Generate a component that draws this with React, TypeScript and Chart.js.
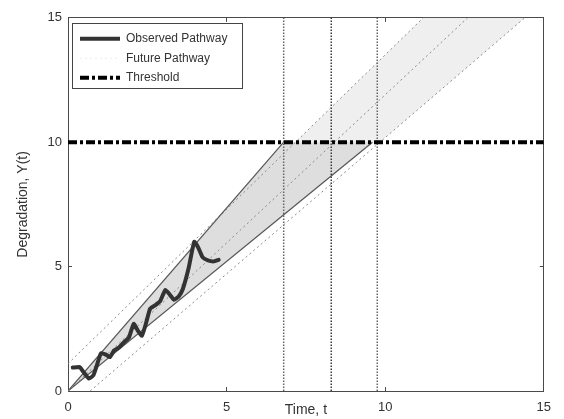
import React, { useEffect, useRef } from 'react';
import { Chart, registerables } from 'chart.js';

Chart.register(...registerables);

// ---- data ----
const observedTime = [0.15, 0.37, 0.49, 0.66, 0.8, 0.91, 1.04, 1.2, 1.32, 1.45, 1.61, 1.76, 1.92, 2.07, 2.21, 2.33, 2.45, 2.59, 2.74, 2.9, 3.07, 3.21, 3.34, 3.49, 3.62, 3.8, 3.98, 4.1, 4.24, 4.41, 4.6, 4.75];
const observedDeg = [0.94, 0.96, 0.76, 0.5, 0.63, 1.03, 1.52, 1.46, 1.36, 1.62, 1.75, 1.95, 2.15, 2.7, 2.41, 2.22, 2.68, 3.31, 3.44, 3.6, 4.06, 3.87, 3.67, 3.8, 4.1, 4.92, 6.0, 5.78, 5.38, 5.25, 5.21, 5.27];

const thresholdTime = [0, 15];
const thresholdValue = [10, 10];

const meanPathTime = [0, 12.6];
const meanPathDeg = [0, 15];
const upperDottedTime = [0, 11.2];
const upperDottedDeg = [1.1, 15];
const lowerDottedTime = [0.7, 14.4];
const lowerDottedDeg = [0, 15];

const upperSolidTime = [0, 6.8];
const upperSolidDeg = [0, 10];
const lowerSolidTime = [0, 9.6];
const lowerSolidDeg = [0, 10];

const crossingTimes = [6.8, 8.3, 9.75];
const crossingSpan = [0, 15];

const innerConeTime = [0, 6.8, 9.6, 0];
const innerConeDeg = [0, 10, 10, 0];
const outerBandTime = [7.17, 11.2, 14.4, 9.83, 7.17];
const outerBandDeg = [10, 15, 15, 10, 10];

const xTickStep = 5;
const yTickStep = 5;
const axisMin = 0;
const axisMax = 15;

const legendLabels = ['Observed Pathway', 'Future Pathway', 'Threshold'];

const pts = (xs: number[], ys: number[]) => xs.map((x, i) => ({ x, y: ys[i] }));

const FONT = 'Liberation Sans, Arial, Helvetica, sans-serif';
const AXIS_COLOR = '#4a4a4a';

const legendPlacement = {
  id: 'legendPlacement',
  afterLayout(chart: any) {
    const l = chart.legend;
    if (l) {
      l.left = chart.chartArea.left + 4.5;
      l.top = chart.chartArea.top + 7.5;
    }
  },
  afterDraw(chart: any) {
    const ctx = chart.ctx;
    const { left, top } = chart.chartArea;
    ctx.save();
    ctx.strokeStyle = '#444';
    ctx.lineWidth = 1;
    ctx.setLineDash([]);
    ctx.strokeRect(Math.round(left + 4) + 0.5, Math.round(top + 5) + 0.5, 170, 65);
    ctx.restore();
  },
};

export default function App() {
  const ref = useRef<HTMLCanvasElement | null>(null);

  useEffect(() => {
    if (!ref.current) return;
    const lineBase = { showLine: true, pointRadius: 0, pointHoverRadius: 0, fill: false };

    const datasets: any[] = [
      {
        ...lineBase,
        label: 'Observed Pathway',
        data: pts(observedTime, observedDeg),
        borderColor: '#333333',
        borderWidth: 4,
        borderJoinStyle: 'round',
        borderCapStyle: 'round',
        tension: 0.15,
      },
      {
        ...lineBase,
        label: 'Future Pathway',
        data: pts(meanPathTime, meanPathDeg),
        borderColor: '#8a8a8a',
        borderWidth: 1,
        borderDash: [2, 3],
      },
      {
        ...lineBase,
        label: 'Threshold',
        data: pts(thresholdTime, thresholdValue),
        borderColor: '#000000',
        borderWidth: 4,
        borderDash: [9, 3, 3, 3],
      },
      {
        ...lineBase,
        label: 'upper bound',
        data: pts(upperSolidTime, upperSolidDeg),
        borderColor: '#555555',
        borderWidth: 1.2,
      },
      {
        ...lineBase,
        label: 'lower bound',
        data: pts(lowerSolidTime, lowerSolidDeg),
        borderColor: '#555555',
        borderWidth: 1.2,
      },
      {
        ...lineBase,
        label: 'upper dotted',
        data: pts(upperDottedTime, upperDottedDeg),
        borderColor: '#8a8a8a',
        borderWidth: 1,
        borderDash: [2, 3],
      },
      {
        ...lineBase,
        label: 'lower dotted',
        data: pts(lowerDottedTime, lowerDottedDeg),
        borderColor: '#8a8a8a',
        borderWidth: 1,
        borderDash: [2, 3],
      },
      ...crossingTimes.map((t, i) => ({
        ...lineBase,
        label: 'crossing ' + i,
        data: pts([t, t], crossingSpan),
        borderColor: i === 1 ? '#3a3a3a' : '#666666',
        borderWidth: 1.5,
        borderDash: [1.5, 1.5],
      })),
      {
        ...lineBase,
        label: 'inner cone',
        data: pts(innerConeTime, innerConeDeg),
        borderColor: 'rgba(0,0,0,0)',
        borderWidth: 0,
        backgroundColor: '#dedede',
        fill: 'shape',
      },
      {
        ...lineBase,
        label: 'outer band',
        data: pts(outerBandTime, outerBandDeg),
        borderColor: 'rgba(0,0,0,0)',
        borderWidth: 0,
        backgroundColor: '#efefef',
        fill: 'shape',
      },
    ];

    const tickFont = { family: FONT, size: 13 };
    const titleFont = { family: FONT, size: 14 };
    const grid = { drawOnChartArea: false, drawTicks: true, tickLength: -4, color: AXIS_COLOR, lineWidth: 1 };
    const border = { display: true, color: AXIS_COLOR, width: 1 };

    const chart = new Chart(ref.current, {
      type: 'scatter',
      data: { datasets },
      plugins: [legendPlacement],
      options: {
        animation: false,
        responsive: false,
        events: [],
        layout: { padding: { top: 12, right: 11, left: 0, bottom: 0 } },
        plugins: {
          tooltip: { enabled: false },
          legend: {
            display: true,
            position: 'chartArea',
            align: 'start',
            labels: {
              usePointStyle: true,
              pointStyle: 'line',
              pointStyleWidth: 40,
              boxHeight: 12,
              padding: 7.5,
              color: '#333333',
              font: { family: FONT, size: 12 },
              generateLabels: (c: any) =>
                c.data.datasets
                  .map((ds: any, i: number) => ({
                    text: ds.label,
                    fillStyle: 'rgba(0,0,0,0)',
                    strokeStyle: ds.label === 'Future Pathway' ? '#ececec' : ds.borderColor,
                    lineWidth: ds.borderWidth,
                    lineDash: ds.borderDash || [],
                    lineCap: 'butt',
                    pointStyle: 'line',
                    hidden: false,
                    fontColor: '#333333',
                    datasetIndex: i,
                  }))
                  .filter((it: any) => legendLabels.includes(it.text)),
            },
          },
        },
        scales: {
          x: {
            type: 'linear',
            position: 'bottom',
            min: axisMin,
            max: axisMax,
            ticks: { stepSize: xTickStep, padding: 13, color: '#333333', font: tickFont, maxRotation: 0 },
            grid,
            border,
            title: { display: true, text: 'Time, t', color: '#333333', font: titleFont, padding: { top: 0, bottom: 0 } },
            afterFit: (s: any) => { s.height = 28; },
          },
          y: {
            type: 'linear',
            position: 'left',
            min: axisMin,
            max: axisMax,
            ticks: { stepSize: yTickStep, padding: 10, color: '#333333', font: tickFont },
            grid,
            border,
            title: { display: true, text: 'Degradation, Y(t)', color: '#333333', font: titleFont, padding: { top: 15, bottom: 0 } },
            afterFit: (s: any) => { s.width = 68; },
          },
          x2: {
            type: 'linear',
            axis: 'x',
            position: 'top',
            min: axisMin,
            max: axisMax,
            ticks: { stepSize: xTickStep, display: false },
            grid,
            border,
            afterFit: (s: any) => { s.height = 0; },
          },
          y2: {
            type: 'linear',
            axis: 'y',
            position: 'right',
            min: axisMin,
            max: axisMax,
            ticks: { stepSize: yTickStep, display: false },
            grid,
            border,
            afterFit: (s: any) => { s.width = 0; },
          },
        },
      } as any,
    });
    return () => chart.destroy();
  }, []);

  return (
    <div style={{ position: 'fixed', left: 0, top: 0, width: 564, height: 419, background: '#fff' }}>
      <canvas ref={ref} width={564} height={419} style={{ display: 'block' }} />
    </div>
  );
}
